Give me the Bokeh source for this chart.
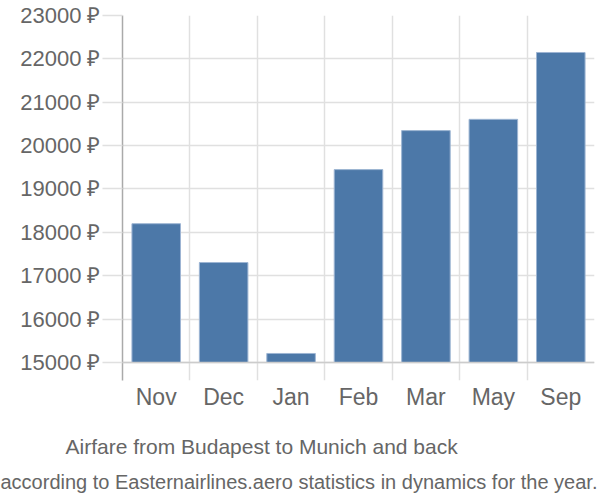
from bokeh.plotting import figure
from bokeh.models import FixedTicker, PrintfTickFormatter, Grid, Span, Title, Range1d
from bokeh.embed import file_html
from bokeh.resources import INLINE

months = ["Nov", "Dec", "Jan", "Feb", "Mar", "May", "Sep"]
prices = [18200, 17305, 15208, 19447, 20346, 20606, 22147]
y_ticks = [15000, 16000, 17000, 18000, 19000, 20000, 21000, 22000, 23000]
title_text = "Airfare from Budapest to Munich and back"
subtitle_text = "according to Easternairlines.aero statistics in dynamics for the year."

FONT = "Liberation Sans"
GRAY = "#666666"

n = len(months)
xs = [i + 0.5 for i in range(n)]

p = figure(width=600, height=500, output_backend="svg", toolbar_location=None,
           x_range=Range1d(0, n), y_range=Range1d(14585, 23000),
           min_border_left=122, min_border_right=6, min_border_top=15,
           min_border_bottom=120)
p.outline_line_color = None
p.xgrid.visible = False
p.ygrid.ticker = FixedTicker(ticks=y_ticks)
p.ygrid.grid_line_color = "#e0e0e0"
p.ygrid.grid_line_width = 1.5

vgrid = Grid(dimension=0, ticker=FixedTicker(ticks=list(range(n + 1))),
             grid_line_color="#e0e0e0", grid_line_width=1.5)
p.add_layout(vgrid)

p.vbar(x=xs, top=prices, bottom=15000, width=0.72, fill_color="#4c78a8",
       line_color="#9db5d3", line_width=1)

p.add_layout(Span(location=15000, dimension="width", line_color="#cccccc", line_width=1.5))

# y axis
ya = p.yaxis[0]
ya.ticker = FixedTicker(ticks=y_ticks)
ya.formatter = PrintfTickFormatter(format="%d ₽")
ya.axis_line_color = "#aaaaaa"
ya.axis_line_width = 1.5
ya.major_tick_in = 0
ya.major_tick_out = 20
ya.major_tick_line_color = "#e0e0e0"
ya.major_tick_line_width = 1.5
ya.minor_tick_line_color = None
ya.major_label_standoff = 2
ya.major_label_text_font = FONT
ya.major_label_text_font_size = "22px"
ya.major_label_text_color = GRAY

# x axis
xa = p.xaxis[0]
xa.ticker = FixedTicker(ticks=xs)
xa.major_label_overrides = {x: m for x, m in zip(xs, months)}
xa.axis_line_color = None
xa.major_tick_line_color = None
xa.minor_tick_line_color = None
xa.major_label_standoff = -3
xa.major_label_text_font = FONT
xa.major_label_text_font_size = "23px"
xa.major_label_text_color = GRAY

# titles below the chart
p.add_layout(Title(text=title_text, align="left", offset=-57, standoff=40,
                   text_font=FONT, text_font_size="21px", text_color=GRAY,
                   text_font_style="normal"), "below")
p.add_layout(Title(text=subtitle_text, align="left", offset=-122, standoff=-30,
                   text_font=FONT, text_font_size="20px", text_color=GRAY,
                   text_font_style="normal"), "below")

open("out.html", "w").write(file_html(p, INLINE))
